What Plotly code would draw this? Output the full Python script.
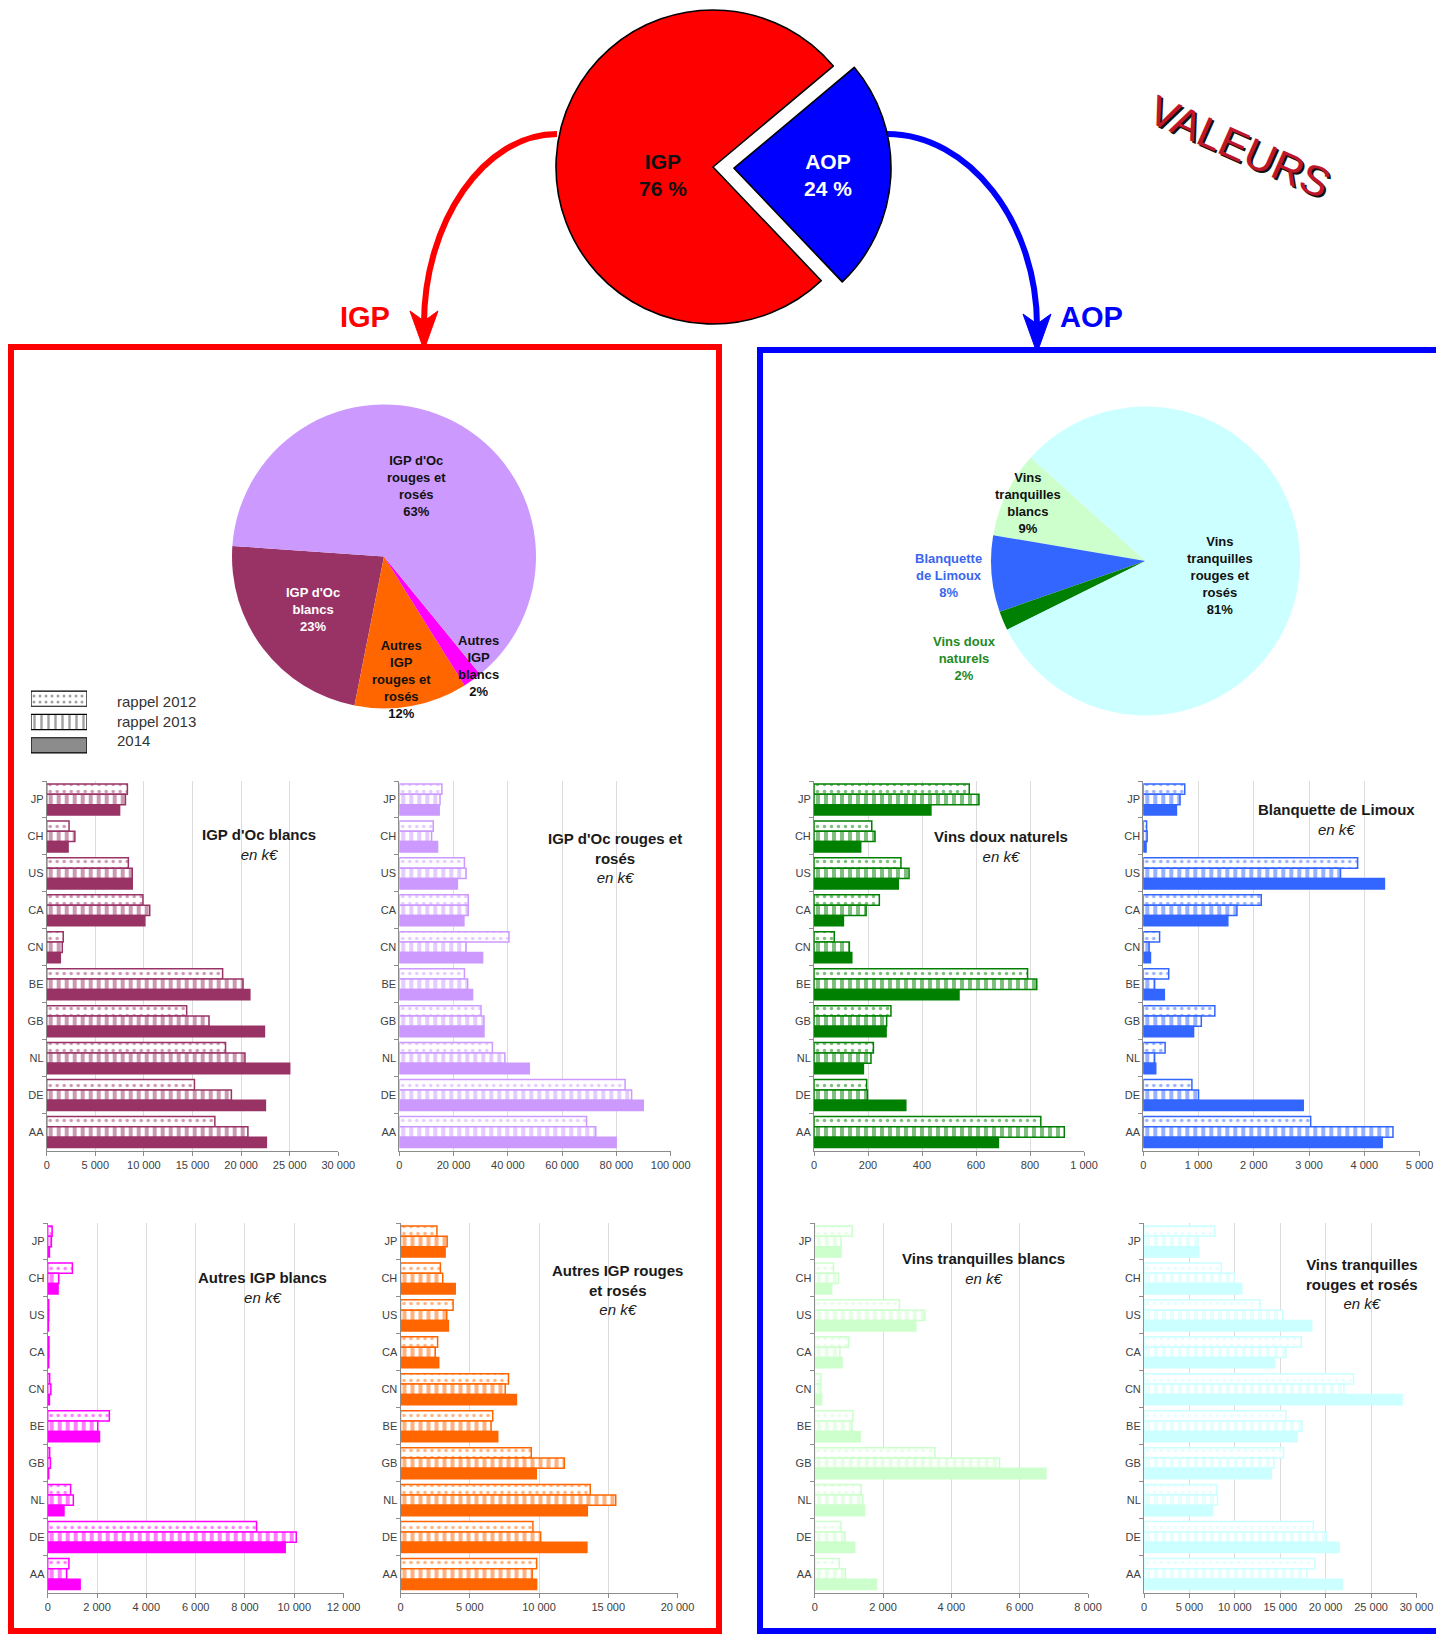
import plotly.graph_objects as go

# ---------------- geometry helpers (reference pixel -> paper) ----------------
FIG_W, FIG_H, OFF = 1428, 1627, 8


def px(X):
    return (X - OFF) / FIG_W


def py(Y):
    return 1 - (Y - OFF) / FIG_H


def pt(X, Y):
    return f"{px(X):.5f},{py(Y):.5f}"


# ---------------- data ----------------
countries = ["JP", "CH", "US", "CA", "CN", "BE", "GB", "NL", "DE", "AA"]
year_labels = ["rappel 2012", "rappel 2013", "2014"]

top_labels = ["IGP", "AOP"]
top_values = [76, 24]

igp_labels = ["IGP d'Oc blancs", "Autres IGP rouges et rosés", "Autres IGP blancs", "IGP d'Oc rouges et rosés"]
igp_values = [23, 12, 2, 63]

aop_labels = ["Vins tranquilles blancs", "Blanquette de Limoux", "Vins doux naturels", "Vins tranquilles rouges et rosés"]
aop_values = [9, 8, 2, 81]

oc_blancs_2012 = [8300, 2300, 8400, 9900, 1700, 18100, 14400, 18400, 15200, 17300]
oc_blancs_2013 = [8100, 2900, 8800, 10600, 1600, 20200, 16700, 20400, 19000, 20700]
oc_blancs_2014 = [7500, 2200, 8800, 10100, 1400, 20900, 22400, 25000, 22500, 22600]

oc_rouges_2012 = [15700, 12500, 24000, 25400, 40400, 24000, 30100, 34300, 83200, 69000]
oc_rouges_2013 = [15000, 11900, 24600, 25400, 24600, 25200, 31200, 38900, 85600, 72400]
oc_rouges_2014 = [14700, 14100, 21400, 23800, 30700, 27000, 31200, 47900, 89900, 79900]

vdn_2012 = [575, 214, 322, 242, 75, 791, 285, 220, 195, 840]
vdn_2013 = [611, 226, 352, 193, 131, 825, 269, 211, 198, 927]
vdn_2014 = [433, 173, 312, 109, 140, 537, 267, 183, 340, 683]

blanquette_2012 = [750, 60, 3880, 2135, 295, 460, 1295, 395, 880, 3030]
blanquette_2013 = [665, 70, 3570, 1695, 105, 205, 1050, 205, 1000, 4520]
blanquette_2014 = [600, 50, 4365, 1530, 130, 380, 910, 225, 2895, 4325]

autres_blancs_2012 = [180, 1000, 40, 50, 80, 2500, 80, 930, 8470, 860]
autres_blancs_2013 = [150, 450, 40, 50, 130, 2030, 110, 1040, 10080, 770]
autres_blancs_2014 = [70, 420, 30, 40, 70, 2100, 40, 660, 9630, 1315]

autres_rouges_2012 = [2630, 2880, 3800, 2680, 7800, 6660, 9440, 13700, 9560, 9830]
autres_rouges_2013 = [3370, 3050, 3340, 2510, 7560, 6540, 11830, 15540, 10120, 9510]
autres_rouges_2014 = [3220, 3950, 3460, 2760, 8370, 7020, 9800, 13490, 13460, 9830]

vt_blancs_2012 = [1100, 550, 2480, 990, 180, 1120, 3520, 1360, 770, 720]
vt_blancs_2013 = [770, 700, 3220, 740, 180, 1090, 5410, 1410, 890, 900]
vt_blancs_2014 = [770, 495, 2960, 800, 200, 1330, 6770, 1460, 1170, 1810]

vt_rouges_2012 = [7800, 8520, 12780, 17320, 23070, 15620, 15370, 7990, 18640, 18810]
vt_rouges_2013 = [5930, 9940, 15270, 15620, 22010, 17390, 14310, 8090, 20060, 17930]
vt_rouges_2014 = [6030, 10760, 18460, 14380, 28400, 16860, 14020, 7560, 21480, 21830]

legend_swatch_len = [1, 1, 1]

# ---------------- styles ----------------
FONT = "Liberation Sans, Arial, sans-serif"
RED = "#ff0000"
BLUE = "#0000ff"
top_colors = [RED, BLUE]
igp_colors = ["#993366", "#ff6600", "#ff00ff", "#cc99ff"]
aop_colors = ["#ccffcc", "#3366ff", "#008000", "#ccffff"]

fig = go.Figure()


def ann(text, X, Y, size, color, **kw):
    d = dict(text=text, x=px(X), y=py(Y), xref="paper", yref="paper",
             xanchor="center", yanchor="middle", showarrow=False, align="center",
             font=dict(size=size, color=color, family=FONT))
    d.update(kw)
    return d


# ---------------- top pie (exploded AOP slice) ----------------
R_TOP = 157
for k, (cx, cy) in enumerate([(713.0, 167.0), (734.0, 168.2)]):
    cols = [c if i == k else "rgba(0,0,0,0)" for i, c in enumerate(top_colors)]
    lws = [1.6 if i == k else 0 for i in range(len(top_colors))]
    fig.add_trace(go.Pie(
        labels=top_labels, values=top_values, sort=False,
        direction="clockwise", rotation=136.4,
        marker=dict(colors=cols, line=dict(color="black", width=lws)),
        textinfo="none", hoverinfo="label+percent", showlegend=False,
        domain=dict(x=[px(cx - R_TOP), px(cx + R_TOP)], y=[py(cy + R_TOP), py(cy - R_TOP)]),
    ))

# ---------------- sub pies ----------------
R_IGP, C_IGP = 152, (384.0, 556.5)
fig.add_trace(go.Pie(
    labels=igp_labels, values=igp_values, sort=False,
    direction="counterclockwise", rotation=-168.8,
    marker=dict(colors=igp_colors, line=dict(width=0)),
    textinfo="none", hoverinfo="label+percent", showlegend=False,
    domain=dict(x=[px(C_IGP[0] - R_IGP), px(C_IGP[0] + R_IGP)],
                y=[py(C_IGP[1] + R_IGP), py(C_IGP[1] - R_IGP)]),
))
R_AOP, C_AOP = 154.5, (1145.5, 561.0)
fig.add_trace(go.Pie(
    labels=aop_labels, values=aop_values, sort=False,
    direction="counterclockwise", rotation=-80.4,
    marker=dict(colors=aop_colors, line=dict(width=0)),
    textinfo="none", hoverinfo="label+percent", showlegend=False,
    domain=dict(x=[px(C_AOP[0] - R_AOP), px(C_AOP[0] + R_AOP)],
                y=[py(C_AOP[1] + R_AOP), py(C_AOP[1] - R_AOP)]),
))

# ---------------- bar charts ----------------
ROW1 = (781, 1150.5)
ROW2 = (1223, 1592.5)
charts = [
    dict(data=(oc_blancs_2012, oc_blancs_2013, oc_blancs_2014), color="#993366", xmax=30000, dtick=5000, xs=(46.7, 338.3), row=ROW1,
         title="<b>IGP d'Oc blancs</b><br><i>en k€</i>", tpos=(259, 844)),
    dict(data=(oc_rouges_2012, oc_rouges_2013, oc_rouges_2014), color="#cc99ff", xmax=100000, dtick=20000, xs=(399.3, 670.7), row=ROW1,
         title="<b>IGP d'Oc rouges et<br>rosés</b><br><i>en k€</i>", tpos=(615, 858)),
    dict(data=(vdn_2012, vdn_2013, vdn_2014), color="#008000", xmax=1000, dtick=200, xs=(814, 1084), row=ROW1,
         title="<b>Vins doux naturels</b><br><i>en k€</i>", tpos=(1001, 846)),
    dict(data=(blanquette_2012, blanquette_2013, blanquette_2014), color="#3366ff", xmax=5000, dtick=1000, xs=(1143.3, 1419.5), row=ROW1,
         title="<b>Blanquette de Limoux</b><br><i>en k€</i>", tpos=(1336, 819)),
    dict(data=(autres_blancs_2012, autres_blancs_2013, autres_blancs_2014), color="#ff00ff", xmax=12000, dtick=2000, xs=(47.7, 343.6), row=ROW2,
         title="<b>Autres IGP blancs</b><br><i>en k€</i>", tpos=(262, 1287)),
    dict(data=(autres_rouges_2012, autres_rouges_2013, autres_rouges_2014), color="#ff6600", xmax=20000, dtick=5000, xs=(400.5, 677.5), row=ROW2,
         title="<b>Autres IGP rouges<br>et rosés</b><br><i>en k€</i>", tpos=(617, 1290)),
    dict(data=(vt_blancs_2012, vt_blancs_2013, vt_blancs_2014), color="#ccffcc", xmax=8000, dtick=2000, xs=(814.7, 1088), row=ROW2,
         title="<b>Vins tranquilles blancs</b><br><i>en k€</i>", tpos=(983, 1268)),
    dict(data=(vt_rouges_2012, vt_rouges_2013, vt_rouges_2014), color="#ccffff", xmax=30000, dtick=5000, xs=(1144, 1416.5), row=ROW2,
         title="<b>Vins tranquilles<br>rouges et rosés</b><br><i>en k€</i>", tpos=(1362, 1284)),
]

patterns = [
    dict(shape=".", size=7, solidity=0.2),
    dict(shape="|", size=8, solidity=0.5),
    dict(shape=""),
]

layout_axes = {}
annotations = []
for i, ch in enumerate(charts, start=1):
    c = ch["color"]
    for yi, (vals, pat) in enumerate(zip(ch["data"], patterns)):
        solid = pat["shape"] == ""
        marker = dict(color=c if solid else "white", line=dict(color=c, width=1.5))
        if not solid:
            marker["pattern"] = dict(shape=pat["shape"], size=pat["size"], solidity=pat["solidity"],
                                     fgcolor=c, fillmode="overlay")
        fig.add_trace(go.Bar(
            y=countries, x=vals, orientation="h", name=year_labels[yi],
            xaxis=f"x{i}", yaxis=f"y{i}", marker=marker, showlegend=False,
            hovertemplate="%{y}: %{x:,d} k€<extra>" + year_labels[yi] + "</extra>",
        ))
    x0, x1 = ch["xs"]
    ytop, ybot = ch["row"]
    layout_axes[f"xaxis{i}"] = dict(
        domain=[px(x0), px(x1)], anchor=f"y{i}", range=[0, ch["xmax"]], dtick=ch["dtick"],
        tickformat=",d", showgrid=True, gridcolor="#dcdcdc", gridwidth=1, zeroline=False,
        showline=True, linecolor="#8c8c8c", linewidth=1, ticks="outside", ticklen=4, tickcolor="#8c8c8c",
        tickfont=dict(size=11, color="#404040", family=FONT), fixedrange=True, automargin=False,
        ticklabeloverflow="allow",
    )
    layout_axes[f"yaxis{i}"] = dict(
        domain=[py(ybot), py(ytop)], anchor=f"x{i}", type="category",
        categoryorder="array", categoryarray=countries, autorange="reversed",
        showline=True, linecolor="#8c8c8c", linewidth=1, ticks="outside", ticklen=4,
        tickcolor="#8c8c8c", tickson="boundaries", showgrid=False,
        tickfont=dict(size=11, color="#404040", family=FONT), fixedrange=True, automargin=False,
    )
    tx, ty = ch["tpos"]
    annotations.append(ann(ch["title"], tx, ty, 15, "#1a1a1a"))

# ---------------- legend swatches (tiny bar chart) ----------------
fig.add_trace(go.Bar(
    y=year_labels, x=legend_swatch_len, orientation="h", width=0.65,
    xaxis="x9", yaxis="y9", showlegend=False, hoverinfo="skip",
    marker=dict(
        color=["white", "white", "#8c8c8c"],
        line=dict(color="black", width=1.2),
        pattern=dict(shape=[".", "|", ""], size=[6, 7, 7], solidity=[0.2, 0.35, 0.3],
                     fgcolor="black", fillmode="overlay"),
    ),
))
layout_axes["xaxis9"] = dict(domain=[px(31), px(87)], anchor="y9", range=[0, 1], visible=False,
                             fixedrange=True, automargin=False)
layout_axes["yaxis9"] = dict(domain=[py(757), py(687)], anchor="x9", type="category",
                             categoryorder="array", categoryarray=year_labels, autorange="reversed",
                             visible=False, fixedrange=True, automargin=False)
for lab, ly in zip(year_labels, [701, 721, 741]):
    annotations.append(ann(lab, 115, ly, 15, "#333333", xanchor="left", align="left"))

# ---------------- pie labels ----------------
top_pct = [f"{v} %" for v in top_values]
annotations.append(ann(f"<b>{top_labels[0]}<br>{top_pct[0]}</b>", 663, 175, 21, "#111111"))
annotations.append(ann(f"<b>{top_labels[1]}<br>{top_pct[1]}</b>", 828, 175, 21, "white"))

igp_text = ["IGP d'Oc<br>blancs", "Autres<br>IGP<br>rouges et<br>rosés", "Autres<br>IGP<br>blancs", "IGP d'Oc<br>rouges et<br>rosés"]
igp_tpos = [(313, 610), (401, 680), (478, 666), (416, 486)]
igp_tcol = ["white", "#111111", "#111111", "#111111"]
for t, v, (lx, ly), col in zip(igp_text, igp_values, igp_tpos, igp_tcol):
    annotations.append(ann(f"<b>{t}<br>{v}%</b>", lx, ly, 13, col))

aop_text = ["Vins<br>tranquilles<br>blancs", "Blanquette<br>de Limoux", "Vins doux<br>naturels", "Vins<br>tranquilles<br>rouges et<br>rosés"]
aop_tpos = [(1028, 503), (948, 575), (965, 658), (1220, 575)]
aop_tcol = ["#111111", "#3a66f0", "#1f8a1f", "#111111"]
for t, v, (lx, ly), col in zip(aop_text, aop_values, aop_tpos, aop_tcol):
    annotations.append(ann(f"<b>{t}<br>{v}%</b>", lx, ly, 13, col))

# ---------------- headings ----------------
annotations.append(ann("<b>IGP</b>", 365, 317, 29, RED))
annotations.append(ann("<b>AOP</b>", 1091, 317, 29, BLUE))
annotations.append(ann("VALEURS", 1239, 147, 42, "#111111", textangle=24, xshift=2, yshift=-2))
annotations.append(ann("VALEURS", 1239, 147, 42, "#c0162a", textangle=24))

# ---------------- shapes: boxes and arrows ----------------
shapes = [
    dict(type="rect", xref="paper", yref="paper", x0=px(11), x1=px(719), y0=py(1631), y1=py(347),
         line=dict(color=RED, width=6), layer="below"),
    dict(type="path", xref="paper", yref="paper",
         path=f"M {pt(1436,1631)} L {pt(760,1631)} L {pt(760,350)} L {pt(1436,350)}",
         line=dict(color=BLUE, width=6), layer="below"),
    dict(type="path", xref="paper", yref="paper",
         path=f"M {pt(557,134)} C {pt(484,134)} {pt(424,222)} {pt(424,324)}",
         line=dict(color=RED, width=6), layer="below"),
    dict(type="path", xref="paper", yref="paper",
         path=f"M {pt(424,350)} L {pt(410,311)} L {pt(424,321)} L {pt(438,311)} Z",
         line=dict(color=RED, width=1), fillcolor=RED, layer="below"),
    dict(type="path", xref="paper", yref="paper",
         path=f"M {pt(887,134)} C {pt(969,134)} {pt(1037,222)} {pt(1037,326)}",
         line=dict(color=BLUE, width=6), layer="below"),
    dict(type="path", xref="paper", yref="paper",
         path=f"M {pt(1037,353)} L {pt(1023,314)} L {pt(1037,324)} L {pt(1051,314)} Z",
         line=dict(color=BLUE, width=1), fillcolor=BLUE, layer="below"),
]

fig.update_layout(
    width=FIG_W, height=FIG_H, autosize=False,
    margin=dict(l=0, r=0, t=0, b=0, pad=0, autoexpand=False),
    paper_bgcolor="white", plot_bgcolor="white",
    font=dict(family=FONT, color="#333333"),
    separators=", ",
    barmode="group", bargap=0.16, bargroupgap=0,
    showlegend=False,
    annotations=annotations,
    shapes=shapes,
    **layout_axes,
)

fig.write_html("out.html")
